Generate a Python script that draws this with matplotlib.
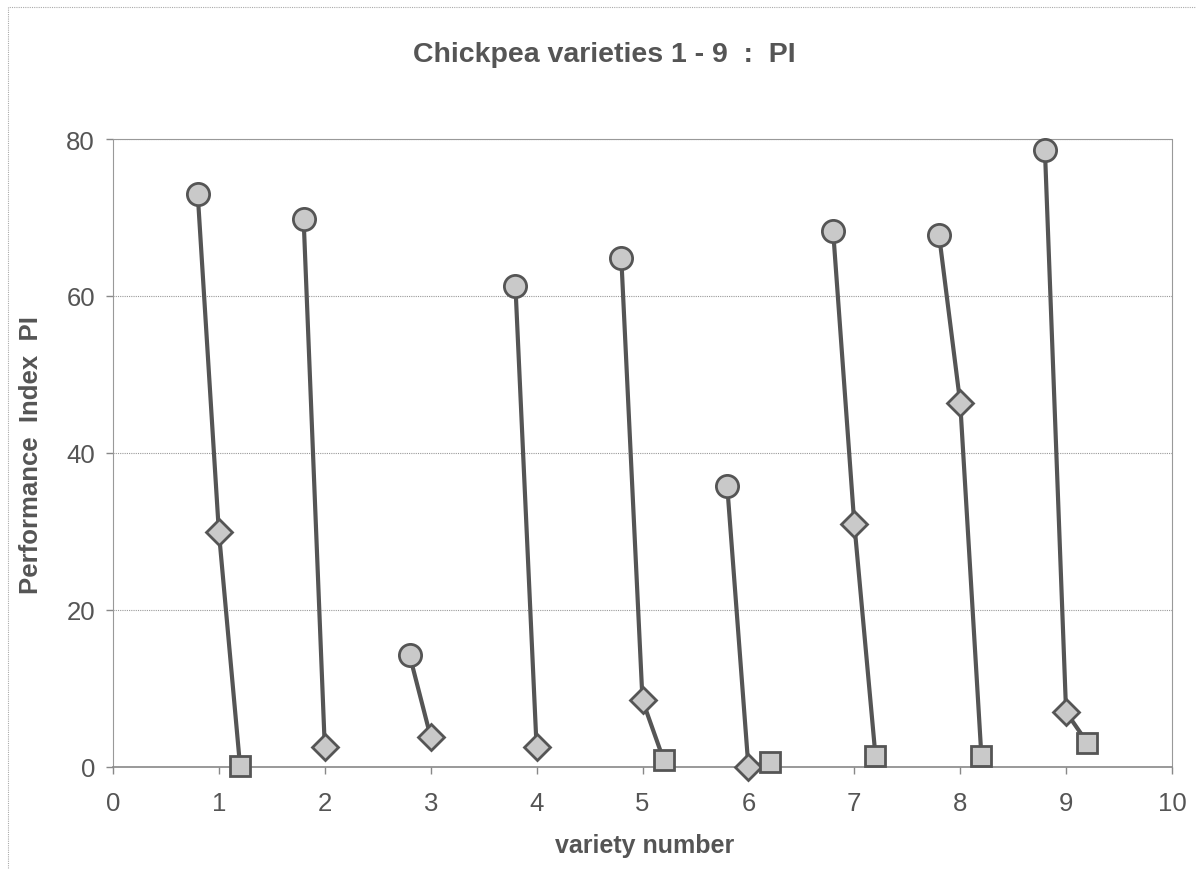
import matplotlib
matplotlib.use("Agg")
import matplotlib.pyplot as plt
import numpy as np
from matplotlib.patches import Rectangle

plt.rcParams['font.family'] = ['Liberation Sans', 'DejaVu Sans']

varieties = [1, 2, 3, 4, 5, 6, 7, 8, 9]
pi_first = [73.0, 69.8, 14.3, 61.3, 64.8, 35.8, 68.3, 67.8, 78.6]    # circles (x - 0.2)
pi_second = [29.9, 2.5, 3.8, 2.5, 8.5, 0.0, 31.0, 46.4, 7.0]         # diamonds (x)
pi_third = [0.1, np.nan, np.nan, np.nan, 0.9, 0.6, 1.4, 1.4, 3.1]    # squares (x + 0.2)
offsets = [-0.2, 0.0, 0.2]

line_c = '#555555'
face_c = '#c9c9c9'

fig = plt.figure(figsize=(11.96, 8.7), dpi=100)
ax = fig.add_axes([113/1196, 1-768/870, (1172-113)/1196, (768-140)/870])

for i, v in enumerate(varieties):
    xs = [v + o for o in offsets]
    ys = [pi_first[i], pi_second[i], pi_third[i]]
    ax.plot(xs, ys, color=line_c, lw=3, zorder=2, clip_on=False)
    ax.plot(xs[0], ys[0], marker='o', ms=16, mfc=face_c, mec=line_c, mew=2, ls='none', zorder=3, clip_on=False)
    ax.plot(xs[1], ys[1], marker='D', ms=13.5, mfc=face_c, mec=line_c, mew=2, ls='none', zorder=3, clip_on=False)
    ax.plot(xs[2], ys[2], marker='s', ms=14.5, mfc=face_c, mec=line_c, mew=2, ls='none', zorder=3, clip_on=False)

ax.set_xlim(0, 10)
ax.set_ylim(0, 80)
ax.set_xticks(range(0, 11))
ax.set_yticks([0, 20, 40, 60, 80])
ax.yaxis.grid(True, color='#999999', ls=(0, (1, 1)), lw=0.8)
ax.set_axisbelow(True)
for s in ['top', 'right', 'left']:
    ax.spines[s].set_color('#999999')
    ax.spines[s].set_linestyle((0, (1, 1)))
    ax.spines[s].set_linewidth(0.8)
ax.spines['bottom'].set_color('#888888')
ax.spines['bottom'].set_linewidth(1.2)
ax.tick_params(axis='both', colors='#888888', labelcolor='#555555', labelsize=18.5, length=5, width=1)
ax.tick_params(axis='x', pad=12)
ax.tick_params(axis='y', pad=8)

fig.text(604/1196, 1-55/870, 'Chickpea varieties 1 - 9  :  PI', ha='center', va='center',
         fontsize=20.5, fontweight='bold', color='#555555')
fig.text(645/1196, 1-846/870, 'variety number', ha='center', va='center',
         fontsize=18, fontweight='bold', color='#555555')
fig.text(31/1196, 1-455/870, 'Performance  Index  PI', ha='center', va='center', rotation=90,
         fontsize=18.5, fontweight='bold', color='#555555')

fig.patches.append(Rectangle((8/1196, -0.1), 1.2, 1.1 - 8/870, transform=fig.transFigure,
                             fill=False, ec='#aaaaaa', lw=0.8, ls=(0, (1, 1))))

fig.savefig('out.png', dpi=100)
